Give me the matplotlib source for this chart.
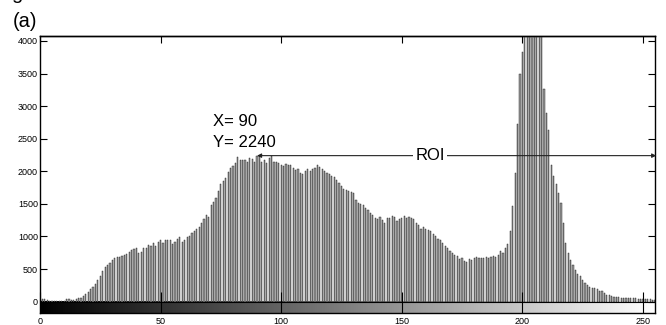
import numpy as np
import matplotlib
matplotlib.use("Agg")
import matplotlib.pyplot as plt

plt.rcParams['font.family'] = ['Liberation Sans', 'DejaVu Sans']

# Histogram counts for gray levels 0..255
counts = [
    30, 40, 35, 20, 10, 5, 5, 5, 10, 10, 15, 35, 40, 30, 30, 40,
    50, 60, 90, 110, 140, 190, 230, 270, 330, 400, 470, 530, 560, 590, 640, 670,
    680, 690, 700, 715, 730, 760, 790, 810, 815, 750, 760, 830, 820, 870, 860, 900,
    860, 910, 950, 900, 940, 950, 950, 880, 920, 960, 990, 920, 940, 990, 1000, 1050,
    1080, 1110, 1150, 1200, 1260, 1330, 1300, 1480, 1530, 1590, 1700, 1800, 1850, 1900, 1990, 2050,
    2080, 2125, 2223, 2180, 2170, 2175, 2140, 2200, 2190, 2150, 2240, 2230, 2150, 2170, 2120, 2200,
    2230, 2150, 2140, 2120, 2100, 2080, 2110, 2090, 2100, 2050, 2020, 2030, 1980, 1960, 2010, 2030,
    2000, 2040, 2050, 2090, 2060, 2040, 2000, 1980, 1960, 1930, 1910, 1860, 1820, 1780, 1730, 1720,
    1700, 1680, 1660, 1560, 1520, 1500, 1490, 1430, 1410, 1360, 1330, 1290, 1270, 1300, 1250, 1200,
    1290, 1280, 1310, 1300, 1240, 1270, 1290, 1320, 1280, 1300, 1290, 1260, 1200, 1170, 1120, 1140,
    1110, 1100, 1080, 1030, 1000, 960, 950, 900, 860, 820, 780, 740, 720, 700, 660, 670,
    620, 610, 660, 640, 670, 680, 670, 675, 670, 680, 670, 690, 700, 690, 720, 780,
    750, 830, 880, 1080, 1460, 1970, 2730, 3500, 3830, 4300, 5000, 5500, 5800, 5600, 5000, 4400,
    4150, 3270, 2900, 2630, 2100, 1920, 1800, 1660, 1510, 1200, 900, 745, 640, 560, 490, 430,
    390, 330, 290, 250, 225, 215, 205, 190, 170, 158, 130, 107, 95, 85, 78, 72,
    66, 62, 60, 58, 55, 52, 50, 48, 46, 45, 44, 42, 40, 35, 32, 30,
]
levels = np.arange(len(counts))

x_ticks = [0, 50, 100, 150, 200, 250]
y_ticks = [0, 500, 1000, 1500, 2000, 2500, 3000, 3500, 4000]

roi_start, roi_end, roi_y = 90, 255.5, 2240
peak_label = ["X= 90", "Y= 2240"]

fig = plt.figure(figsize=(6.66, 3.25), dpi=100)
ax = fig.add_axes([40/666, 1-313/325, 615/666, 277/325])

ymin, ymax = -175, 4076
ax.set_xlim(0, 255)
ax.set_ylim(ymin, ymax)

# gray-level strip under the histogram
ax.imshow(np.linspace(0, 1, 256)[None, :], cmap='gray', aspect='auto',
          extent=(0, 255, ymin, 0), zorder=0, interpolation='bilinear')
ax.axhline(0, color='black', lw=0.8, zorder=1.5)

ax.bar(levels, counts, width=0.5, color='#9a9a9a', edgecolor='#1a1a1a',
       linewidth=0.3, zorder=1)

ax.set_xticks(x_ticks)
ax.set_yticks(y_ticks)
ax.tick_params(axis='x', direction='in', length=15, width=0.8, pad=3,
               labelsize=6.5, bottom=True, top=False)
ax.tick_params(axis='y', direction='in', length=5, width=0.8, pad=1.5,
               labelsize=6.5, left=True, right=True)
for s in ax.spines.values():
    s.set_linewidth(1.0)

sec = ax.secondary_xaxis('top')
sec.set_xticks(x_ticks)
sec.tick_params(direction='in', length=5, width=0.8, labeltop=False)
sec.spines['top'].set_linewidth(1.0)

# ROI arrow
ax.annotate('', xy=(roi_start, roi_y), xytext=(roi_end, roi_y),
            arrowprops=dict(arrowstyle='<|-|>', mutation_scale=6, lw=0.8,
                            color='#222222', shrinkA=0, shrinkB=0),
            annotation_clip=False, zorder=3)
ax.text((roi_start + roi_end) / 2 - 11, roi_y, 'ROI', fontsize=12, ha='center',
        va='center', zorder=4,
        bbox=dict(facecolor='white', edgecolor='none', pad=1.5))

ax.text(71.7, 2695, peak_label[0], fontsize=12, ha='left', va='baseline', zorder=4)
ax.text(71.7, 2373, peak_label[1], fontsize=12, ha='left', va='baseline', zorder=4)

fig.text(13/666, 1-27/325, '(a)', fontsize=14.5, ha='left', va='baseline')
fig.text(11/666, 1-(-1)/325, 'g', fontsize=14.5, ha='left', va='baseline')

fig.savefig('out.png', dpi=100)
